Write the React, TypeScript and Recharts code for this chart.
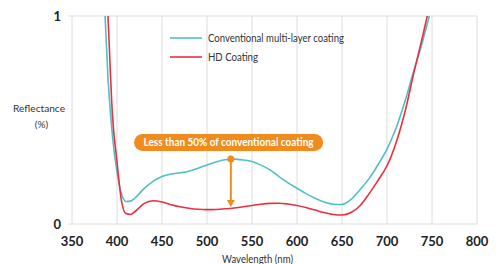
import React from 'react';
import {
  LineChart,
  Line,
  XAxis,
  YAxis,
  CartesianGrid,
  Legend,
  ReferenceLine,
  ReferenceDot,
} from 'recharts';

// wavelength in nm, reflectance as fraction of the axis (0..1)
const wavelengths = [
  380, 385, 390, 395, 400, 405, 410, 415, 420, 430, 440, 450, 460, 470, 480, 490, 500, 510, 520, 530,
  540, 550, 560, 570, 580, 590, 600, 610, 620, 630, 640, 650, 660, 670, 680, 690, 700, 710, 720, 730,
  740, 750, 760,
];
const conventional = [
  1.75, 1.16, 0.7, 0.42, 0.25, 0.145, 0.108, 0.11, 0.125, 0.17, 0.205, 0.228, 0.24, 0.246, 0.254, 0.268,
  0.284, 0.298, 0.309, 0.312, 0.308, 0.3, 0.283, 0.26, 0.228, 0.198, 0.172, 0.146, 0.124, 0.106, 0.095,
  0.094, 0.118, 0.165, 0.218, 0.285, 0.36, 0.46, 0.59, 0.74, 0.885, 1.05, 1.22,
];
const hdCoating = [
  2.0, 1.5, 1.0, 0.52, 0.3, 0.11, 0.05, 0.046, 0.06, 0.098, 0.112, 0.106, 0.093, 0.083, 0.076, 0.071,
  0.069, 0.07, 0.073, 0.077, 0.083, 0.089, 0.095, 0.099, 0.1, 0.096, 0.089, 0.079, 0.067, 0.055, 0.046,
  0.043, 0.055, 0.088, 0.145, 0.21, 0.28, 0.39, 0.54, 0.73, 0.91, 1.1, 1.3,
];
const xTicks = [350, 400, 450, 500, 550, 600, 650, 700, 750, 800];
const yTicks = [0, 1];

// annotation: conventional peak vs HD value at same wavelength
const arrowX = 526.5;
const arrowTop = 0.3125;
const arrowBottom = 0.082;
const noteText = 'Less than 50% of conventional coating';

const TEAL = '#4fc0c3';
const RED = '#eb2f3d';
const ORANGE = '#f08c1e';
const GRID = '#dcdcdc';
const FONT = 'Lato, "Open Sans", sans-serif';

const rows = wavelengths.map((w, i) => ({ w, conv: conventional[i], hd: hdCoating[i] }));

function LegendBox() {
  return (
    <svg width={200} height={40} style={{ display: 'block' }}>
      <line x1={5} x2={37} y1={10} y2={10} stroke={TEAL} strokeWidth={1.6} />
      <text x={43} y={10} dy="0.35em" fontSize={11} fill="#333" fontFamily={FONT} textLength={136} lengthAdjust="spacingAndGlyphs">
        Conventional multi-layer coating
      </text>
      <line x1={5} x2={37} y1={29} y2={29} stroke={RED} strokeWidth={1.6} />
      <text x={43} y={29} dy="0.35em" fontSize={11} fill="#333" fontFamily={FONT} textLength={50} lengthAdjust="spacingAndGlyphs">
        HD Coating
      </text>
    </svg>
  );
}

function NotePill(props: any) {
  const { cx, cy } = props;
  return (
    <g>
      <rect x={cx - 94.5} y={cy - 8.5} width={189} height={17} rx={8.5} fill={ORANGE} />
      <text
        x={cx}
        y={cy}
        dy="0.35em"
        textAnchor="middle"
        fontSize={10.5}
        fontWeight={700}
        fill="#fff"
        fontFamily={FONT}
        textLength={170}
        lengthAdjust="spacingAndGlyphs"
      >
        {noteText}
      </text>
    </g>
  );
}

function ArrowHead(props: any) {
  const { cx, cy } = props;
  return <path d={`M${cx - 4},${cy - 7} L${cx + 4},${cy - 7} L${cx},${cy} Z`} fill={ORANGE} />;
}

function YTitle() {
  return (
    <g fontFamily={FONT} fontSize={10} fill="#333">
      <text x={39} y={108} dy="0.35em" textAnchor="middle" textLength={52} lengthAdjust="spacingAndGlyphs">
        Reflectance
      </text>
      <text x={41.5} y={124} dy="0.35em" textAnchor="middle">
        (%)
      </text>
    </g>
  );
}

function XTitle() {
  return (
    <text x={257.5} y={263} textAnchor="middle" fontSize={10.5} fill="#333" fontFamily={FONT} textLength={71} lengthAdjust="spacingAndGlyphs">
      Wavelength (nm)
    </text>
  );
}

export default function App() {
  return (
    <div style={{ position: 'absolute', left: 0, top: 0, width: 500, height: 264, background: '#fff' }}>
      <LineChart width={500} height={264} data={rows} margin={{ top: 16, right: 23, bottom: 0, left: 0 }}>
        <CartesianGrid stroke={GRID} />
        <XAxis
          dataKey="w"
          type="number"
          domain={[350, 800]}
          ticks={xTicks}
          height={40}
          axisLine={false}
          tickLine={false}
          tickSize={0}
          tickMargin={13}
          tick={{ fontSize: 13, fontWeight: 700, fill: '#222', fontFamily: FONT }}
          label={{ content: () => <XTitle /> }}
        />
        <YAxis
          type="number"
          domain={[0, 1]}
          ticks={yTicks}
          allowDataOverflow
          width={72}
          axisLine={false}
          tickLine={{ stroke: GRID }}
          tickSize={4}
          tickMargin={7}
          tick={{ fontSize: 13, fontWeight: 700, fill: '#222', fontFamily: FONT }}
          label={{ content: () => <YTitle /> }}
        />
        <Legend
          layout="horizontal"
          verticalAlign="middle"
          align="center"
          content={() => <LegendBox />}
          wrapperStyle={{ position: 'absolute', left: 165, top: 28, width: 200, height: 40 }}
        />
        <Line
          type="monotone"
          dataKey="conv"
          stroke={TEAL}
          strokeWidth={1.6}
          dot={false}
          isAnimationActive={false}
        />
        <Line
          type="monotone"
          dataKey="hd"
          stroke={RED}
          strokeWidth={1.6}
          dot={false}
          isAnimationActive={false}
        />
        <ReferenceLine
          segment={[
            { x: arrowX, y: arrowTop },
            { x: arrowX, y: arrowBottom + 0.02 },
          ]}
          stroke={ORANGE}
          strokeWidth={2}
        />
        <ReferenceDot x={arrowX} y={arrowTop} r={3.5} fill={ORANGE} stroke="none" />
        <ReferenceDot x={arrowX} y={arrowBottom} shape={ArrowHead} />
        <ReferenceDot x={524} y={0.392} shape={NotePill} />
      </LineChart>
    </div>
  );
}
